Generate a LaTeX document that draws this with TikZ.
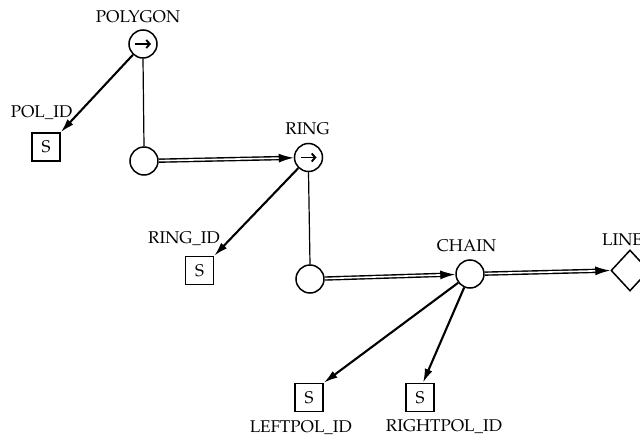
\documentclass[tikz,border=0pt]{standalone}
\usepackage[T1]{fontenc}
\usepackage{mathpazo}
\usetikzlibrary{arrows.meta,shapes.geometric}

\tikzset{
  lbl/.style={font=\fontsize{17}{20}\selectfont, inner sep=0pt},
  ringnode/.style={circle, draw, line width=1.5pt, minimum size=28pt, inner sep=0pt},
  sbox/.style={rectangle, draw, line width=1.5pt, minimum size=28pt, inner sep=0pt,
               font=\fontsize{17}{18}\selectfont},
  endnode/.style={diamond, draw, line width=1.5pt, minimum width=38pt, minimum height=41pt, inner sep=0pt},
  link/.style={line width=1.2pt},
  attr/.style={line width=2.1pt, -{Latex[length=14pt,width=8pt]}},
  seq/.style={line width=1.4pt, double, double distance=1.6pt, -{Latex[length=15pt,width=9pt]}},
  iter/.style={line width=1.9pt, -{Straight Barb[length=3.5pt,width=8pt]}}
}

\begin{document}
\begin{tikzpicture}[x=1pt,y=-1pt]
\useasboundingbox (0,0) rectangle (640,439);

% structure nodes
\node[ringnode] (polygon) at (143,44) {};
\node[ringnode] (pa) at (144,161) {};
\node[ringnode] (ring) at (308.5,157.5) {};
\node[ringnode] (rb) at (310,279) {};
\node[ringnode] (chain) at (470,274) {};
\node[endnode] (line) at (630,270.5) {};

% string attributes
\node[sbox] (polid) at (46,147) {S};
\node[sbox] (ringid) at (199.5,270.5) {S};
\node[sbox] (leftid) at (309,397.5) {S};
\node[sbox] (rightid) at (420,397.5) {S};

% labels
\node[lbl, anchor=base] (tpolygon) at (138,22) {POLYGON};
\node[lbl, anchor=base] (tpolid) at (41.5,117) {POL\_ID};
\node[lbl, anchor=base] (tring) at (307.5,134) {RING};
\node[lbl, anchor=base east] (tringid) at (220,243) {RING\_ID};
\node[lbl, anchor=base] (tchain) at (466.5,251) {CHAIN};
\node[lbl, anchor=base west] (tline) at (602,245) {LINE};
\node[lbl, anchor=base east] (tleftid) at (352,432) {LEFTPOL\_ID};
\node[lbl, anchor=base] (trightid) at (444,431) {RIGHTPOL\_ID};

% iteration marks inside the circles
\draw[iter] ([xshift=-8pt]polygon.center) -- ([xshift=8pt]polygon.center);
\draw[iter] ([xshift=-8pt]ring.center) -- ([xshift=8pt]ring.center);

% connectors
\draw[link] (polygon.south) -- (pa.north);
\draw[link] (ring.south) -- (rb.north);
\draw[attr] (polygon) -- (polid.north east);
\draw[attr] (ring) -- (ringid.north east);
\draw[attr] (chain) -- (leftid.north east);
\draw[attr] (chain) -- ([xshift=3pt]rightid.north);
\draw[seq] (pa) -- (ring);
\draw[seq] (rb) -- (chain);
\draw[seq] (chain) -- (line.west);
\end{tikzpicture}
\end{document}
